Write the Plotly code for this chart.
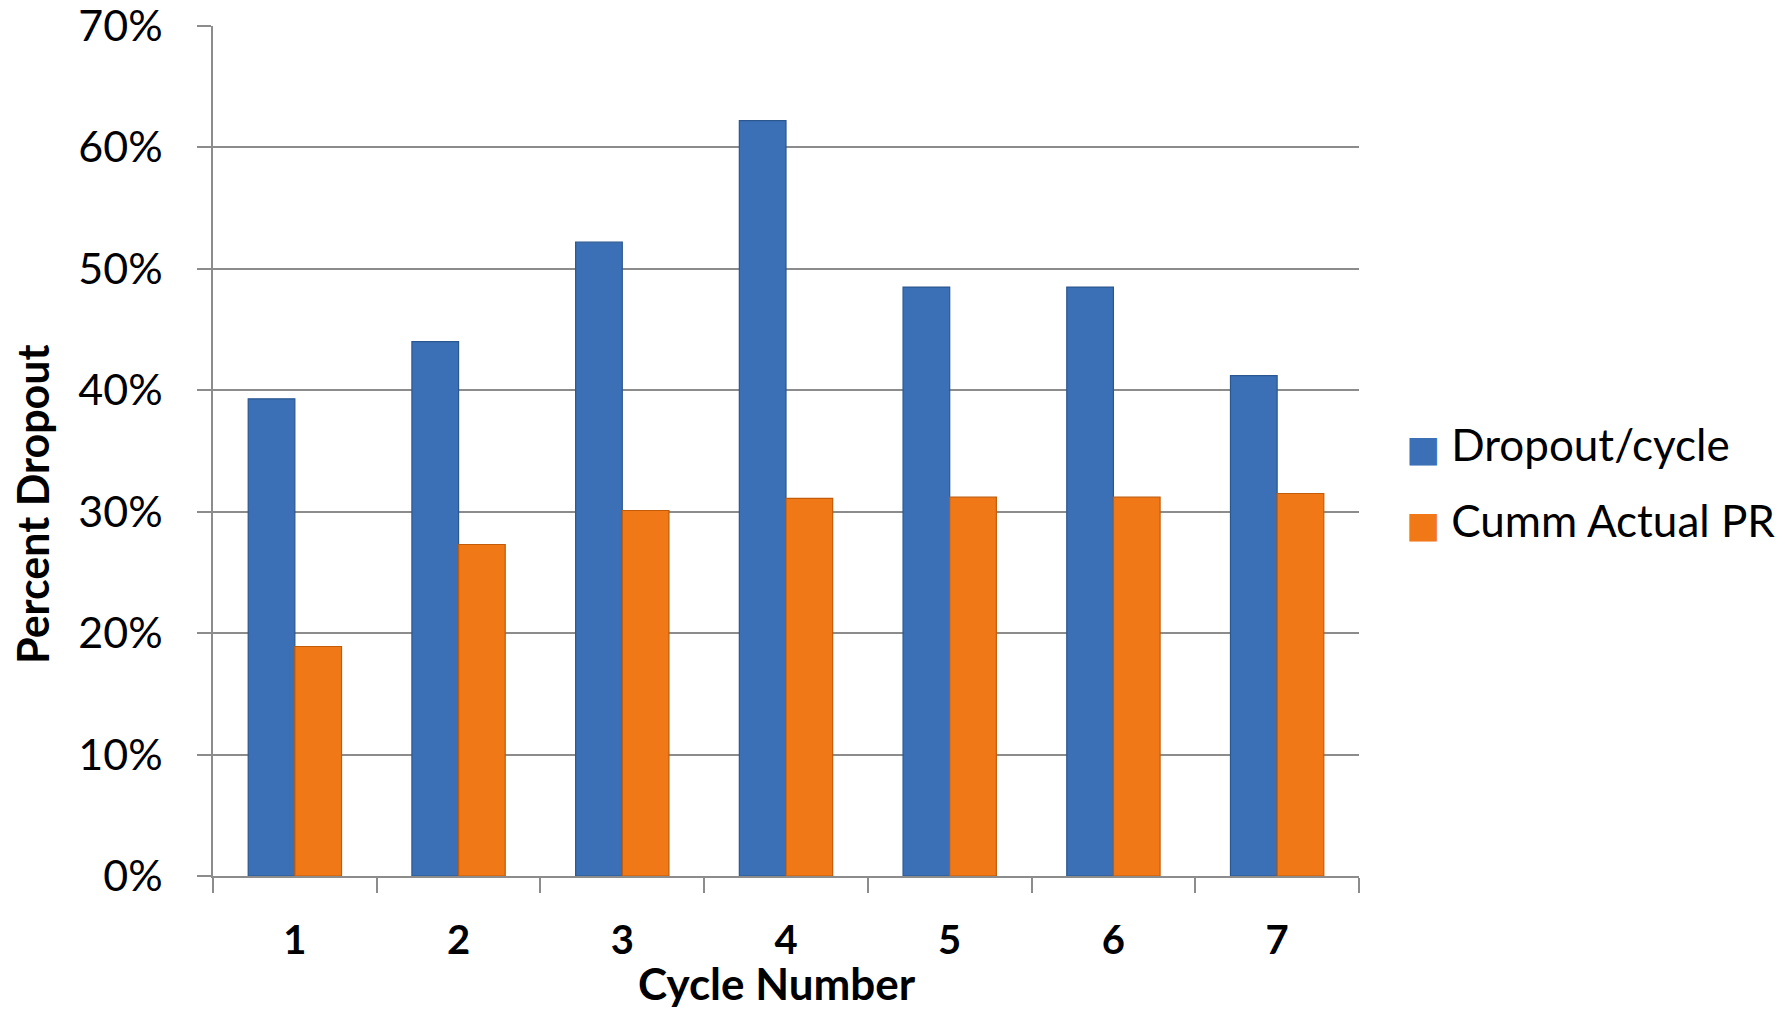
import plotly.graph_objects as go

# Dropout rates per treatment cycle
cycles = ["1", "2", "3", "4", "5", "6", "7"]
dropout_per_cycle = [0.393, 0.440, 0.522, 0.622, 0.485, 0.485, 0.412]
cumm_actual_pr = [0.189, 0.273, 0.301, 0.311, 0.312, 0.312, 0.315]
y_ticks = [0, 0.1, 0.2, 0.3, 0.4, 0.5, 0.6, 0.7]
y_tick_labels = ["0%", "10%", "20%", "30%", "40%", "50%", "60%", "70%"]

FONT = "Lato"
GRID = "#8c8c8c"
BLUE, BLUE_EDGE = "#3b70b6", "#2b5790"
ORANGE, ORANGE_EDGE = "#f07816", "#c25c0b"

fig = go.Figure()
fig.add_trace(go.Bar(
    x=cycles, y=dropout_per_cycle, name="Dropout/cycle", showlegend=False,
    marker=dict(color=BLUE, line=dict(color=BLUE_EDGE, width=1.2)),
))
fig.add_trace(go.Bar(
    x=cycles, y=cumm_actual_pr, name="Cumm Actual PR", showlegend=False,
    marker=dict(color=ORANGE, line=dict(color=ORANGE_EDGE, width=1.2)),
))

# Legend entries: a large coloured square glyph in front of each name
for name, color, grp in [("Dropout/cycle", BLUE, "a"),
                         ("Cumm Actual PR", ORANGE, "b")]:
    fig.add_trace(go.Scatter(
        x=[None], y=[None], mode="markers", legendgroup=grp,
        name=(f'<span style="color:{color};font-family:DejaVu Sans;'
              f'font-size:36px">■</span> {name}'),
        marker=dict(symbol="square", size=1, color="rgba(0,0,0,0)",
                    line=dict(width=0)),
    ))

fig.update_layout(
    width=1785, height=1009,
    margin=dict(l=213, r=426, t=26, b=133, autoexpand=False),
    paper_bgcolor="white", plot_bgcolor="white",
    barmode="group", bargap=0.43, bargroupgap=0,
    font=dict(family=FONT, color="black"),
    legend=dict(
        x=1.006, y=0.4635, xanchor="left", yanchor="middle",
        font=dict(family=FONT, size=44, color="black"),
        tracegroupgap=16, bgcolor="rgba(0,0,0,0)", itemwidth=30,
    ),
    showlegend=True,
)

fig.update_xaxes(
    type="category", tickson="boundaries",
    showline=True, linecolor=GRID, linewidth=1.5,
    ticks="outside", ticklen=15, tickwidth=1.5, tickcolor=GRID,
    tickfont=dict(family=FONT, size=40, color="black", weight="bold"),
    ticklabelstandoff=28,
    showgrid=False, zeroline=False,
)
fig.update_yaxes(
    range=[0, 0.7], tickvals=y_ticks, ticktext=y_tick_labels,
    showline=True, linecolor=GRID, linewidth=1.5,
    ticks="outside", ticklen=14, tickwidth=1.5, tickcolor=GRID,
    tickfont=dict(family=FONT, size=43, color="black"),
    ticklabelstandoff=26, ticklabeloverflow="allow",
    showgrid=True, gridcolor=GRID, gridwidth=1.5, zeroline=False,
)

# Axis titles
fig.add_annotation(
    text="<b>Cycle Number</b>", xref="paper", yref="paper",
    x=0.492, y=-0.126, xanchor="center", yanchor="middle", showarrow=False,
    font=dict(family=FONT, size=44, color="black"),
)
fig.add_annotation(
    text="<b>Percent Dropout</b>", xref="paper", yref="paper",
    x=-0.158, y=0.4376, xanchor="center", yanchor="middle", showarrow=False,
    textangle=-90, font=dict(family=FONT, size=43, color="black"),
)

fig.write_html("out.html")
